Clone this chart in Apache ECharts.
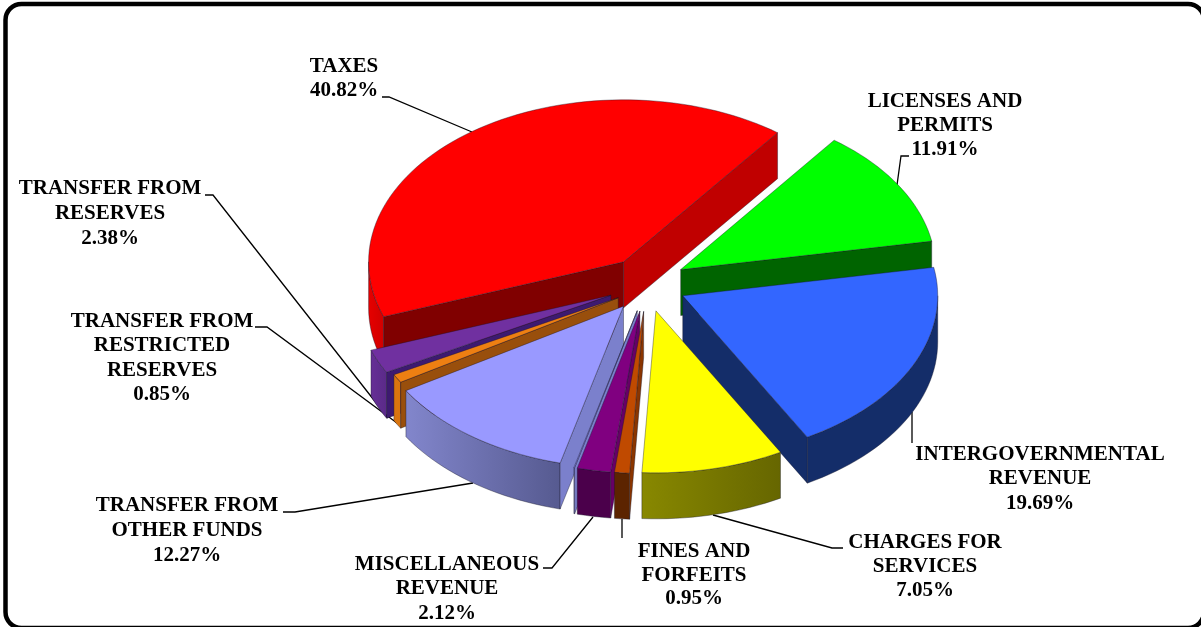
<!DOCTYPE html>
<html><head><meta charset="utf-8">
<style>html,body{margin:0;padding:0;background:#fff}#c{width:1201px;height:627px}</style>
<script src="https://cdn.jsdelivr.net/npm/echarts@6/dist/echarts.min.js"></script>
</head><body><div id="c"></div>
<script>
// --- data, clockwise from the Licenses slice
const categories = ['LICENSES AND\nPERMITS','INTERGOVERNMENTAL\nREVENUE','CHARGES FOR\nSERVICES','FINES AND\nFORFEITS','MISCELLANEOUS\nREVENUE','','TRANSFER FROM\nOTHER FUNDS','TRANSFER FROM\nRESTRICTED\nRESERVES','TRANSFER FROM\nRESERVES','TAXES'];
const values = [11.91,19.69,7.05,0.95,2.12,0.05,12.27,0.85,2.38,40.82];
// the printed shares add up to less than 100: the Charges wedge is drawn wider than its label by this unlabelled share
const unlabelledShare = [0,0,1.95,0,0,0,0,0,0,0];
const percentLabels = ['11.91%','19.69%','7.05%','0.95%','2.12%','','12.27%','0.85%','2.38%','40.82%'];
// --- colours
const topColors = ['#00FF00','#3366FF','#FFFF00','#C04A00','#800080','#9999FF','#9999FF','#EE7F12','#7030A0','#FF0000'];
const wallLeft  = ['#006400','#142D69','#888800','#5C2400','#4B004B','#7B80CC','#8286CC','#D9750F','#662F96','#E60000'];
const wallRight = ['#006400','#142D69','#666600','#5C2400','#4B004B','#7B80CC','#565A90','#D9750F','#5A2A88','#D00000'];
const startFace = [null,null,null,'#8A3500','#660066','#7B80CC','#7B80CC','#994F0C','#3D1A70','#800000'];
const endFace   = ['#006400','#142D69','#808000','#8A3500','#660066','#7B80CC','#7B80CC','#994F0C','#3D1A70','#C00000'];
// --- layout
const cx = 647, cy = 284, rx = 255, ry = 162, depth = 46, explodeY = 0.17, startAngle = 37;
const explodeX = [0.155,0.155,0.155,0.155,0.155,0.155,0.155,0.13,0.155,0.155];
const labelSpots = [
  {i:9,x:344,y:[67,91]},
  {i:0,x:945,y:[102,126,150]},
  {i:1,x:1040,y:[455,479,504]},
  {i:2,x:925,y:[543,567,591]},
  {i:3,x:694,y:[552,576,599]},
  {i:4,x:447,y:[565,589,614]},
  {i:6,x:187,y:[506,531,556]},
  {i:7,x:162,y:[322,346,371,395]},
  {i:8,x:110,y:[189,214,239]}
];
const leaders = [
  [[382,97],[389,97],[472,132]],
  [[205,195],[213,195],[388,418]],
  [[255,327],[267,327],[397,423]],
  [[283,512],[295,512],[473,483]],
  [[543,568],[552,568],[593,517]],
  [[622,519],[622,538]],
  [[713,515],[832,548],[843,548]],
  [[912,412],[912,443]],
  [[897,185],[901,156],[909,156]]
];

const rad = d => d * Math.PI / 180;
let acc = startAngle;
const slices = values.map((v, i) => {
  const t0 = acc, t1 = acc + (v + unlabelledShare[i]) * 3.6; acc = t1;
  const m = rad((t0 + t1) / 2);
  return {i, t0, t1, ox: cx + explodeX[i] * rx * Math.sin(m), oy: cy - explodeY * ry * Math.cos(m), mid: -Math.cos(m)};
});
const drawOrder = slices.slice().sort((a, b) => a.mid - b.mid).map(s => s.i);
const edge = (s, t, dz) => [s.ox + rx * Math.sin(rad(t)), s.oy - ry * Math.cos(rad(t)) + (dz || 0)];
const outline = 'rgba(20,20,40,0.55)';
function poly(points, fill) {
  return {type:'polygon', shape:{points}, style:{fill, stroke:outline, lineWidth:0.7}};
}
function arcPts(s, a, b, dz) {
  const n = Math.max(2, Math.ceil(Math.abs(b - a) / 2)), out = [];
  for (let k = 0; k <= n; k++) out.push(edge(s, a + (b - a) * k / n, dz));
  return out;
}
function renderSlice(params) {
  const s = slices[drawOrder[params.dataIndex]], i = s.i, children = [];
  const base = [s.ox, s.oy], low = [s.ox, s.oy + depth];
  const a = Math.max(s.t0, 90), b = Math.min(s.t1, 270);
  if (b > a) {
    const upper = arcPts(s, a, b, 0), lower = arcPts(s, a, b, depth).reverse();
    children.push(poly(upper.concat(lower), {type:'linear', x:0, y:0, x2:1, y2:0,
      colorStops:[{offset:0, color:wallLeft[i]}, {offset:1, color:wallRight[i]}]}));
  }
  if (Math.sin(rad(s.t0)) < 0 && startFace[i]) {
    children.push(poly([base, edge(s, s.t0), edge(s, s.t0, depth), low], startFace[i]));
  }
  if (Math.sin(rad(s.t1)) > 0 && endFace[i]) {
    children.push(poly([base, edge(s, s.t1), edge(s, s.t1, depth), low], endFace[i]));
  }
  children.push(poly([base].concat(arcPts(s, s.t0, s.t1, 0)), topColors[i]));
  return {type:'group', children};
}
function renderLabel(params) {
  const l = labelSpots[params.dataIndex];
  const lines = categories[l.i].split('\n').concat(percentLabels[l.i]);
  return {type:'group', children: lines.map((txt, k) => ({
    type:'text', style:{text:txt, x:l.x, y:l.y[k], align:'center', verticalAlign:'middle',
      font:'bold 21px "Liberation Serif", serif', fill:'#000'}
  }))};
}
function renderLeader(params) {
  return {type:'polyline', shape:{points:leaders[params.dataIndex]}, style:{fill:'none', stroke:'#000', lineWidth:1.3}};
}
const chart = echarts.init(document.getElementById('c'), null, {renderer:'canvas'});
chart.setOption({
  animation:false,
  backgroundColor:'#fff',
  tooltip:{show:false},
  graphic:[{type:'rect', z:10, shape:{x:5.5,y:4,width:1198.5,height:624,r:16}, style:{fill:'none',stroke:'#000',lineWidth:4.5}, silent:true}],
  series:[
    {type:'custom', coordinateSystem:'none', renderItem:renderLeader, data:leaders.map((_, k) => k), z:1, silent:true},
    {type:'custom', coordinateSystem:'none', renderItem:renderSlice, data:drawOrder.map(i => values[i]), z:2, silent:true},
    {type:'custom', coordinateSystem:'none', renderItem:renderLabel, data:labelSpots.map(l => values[l.i]), z:3, silent:true}
  ]
});
</script></body></html>
